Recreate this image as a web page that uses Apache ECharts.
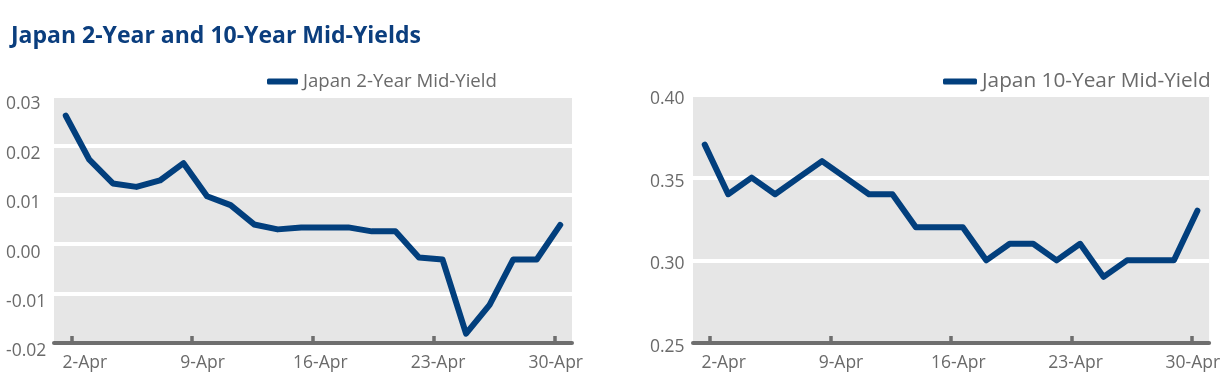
<!DOCTYPE html>
<html>
<head>
<meta charset="utf-8">
<script src="https://cdn.jsdelivr.net/npm/echarts@6/dist/echarts.min.js"></script>
<style>
html,body{margin:0;padding:0;background:#fff;}
#c{width:1223px;height:391px;}
</style>
</head>
<body>
<div id="c"></div>
<script>
// Business days of April (category axis)
const dates = ['1-Apr','2-Apr','3-Apr','4-Apr','5-Apr','8-Apr','9-Apr','10-Apr','11-Apr','12-Apr',
  '15-Apr','16-Apr','17-Apr','18-Apr','19-Apr','22-Apr','23-Apr','24-Apr','25-Apr','26-Apr','29-Apr','30-Apr'];
// Japan 2-Year mid-yield (%)
const twoYear = [0.026, 0.0171, 0.0123, 0.0116, 0.0129, 0.0164, 0.0097, 0.0079, 0.0040, 0.0030,
  0.0034, 0.0034, 0.0034, 0.0026, 0.0026, -0.0027, -0.0031, -0.0181, -0.0123, -0.0031, -0.0031, 0.0039];
// Japan 10-Year mid-yield (%)
const tenYear = [0.37, 0.34, 0.35, 0.34, 0.35, 0.36, 0.35, 0.34, 0.34, 0.32,
  0.32, 0.32, 0.30, 0.31, 0.31, 0.30, 0.31, 0.29, 0.30, 0.30, 0.30, 0.33];
// Day-of-month tick positions for the date tick marks
const tickDays = [2, 9, 16, 23, 30];
const leftY = {min: -0.02, max: 0.03, interval: 0.01};
const rightY = {min: 0.25, max: 0.40, interval: 0.05};
const title = 'Japan 2-Year and 10-Year Mid-Yields';
const name2 = 'Japan 2-Year Mid-Yield';
const name10 = 'Japan 10-Year Mid-Yield';

const FONT = 'Open Sans';
const GREY_TXT = '#6a6a6a';
const AXIS = '#6e6e6e';
const BLUE = '#023f7d';

function catAxis(gi) {
  return {
    type: 'category', gridIndex: gi, data: dates, boundaryGap: true,
    axisLine: {show: false}, axisTick: {show: false}, splitLine: {show: false},
    axisLabel: {
      interval: (i) => i % 5 === 1,
      margin: 11, fontSize: 17.5, color: GREY_TXT, fontFamily: FONT,
      padding: [0, 9, 0, 0]
    }
  };
}
function tickAxis(gi) {
  return {
    type: 'value', gridIndex: gi, min: 1, max: 31, position: 'bottom',
    axisLine: {show: true, onZero: false, lineStyle: {color: AXIS, width: 4}},
    axisTick: {show: true, inside: true, length: 7, customValues: tickDays, lineStyle: {color: AXIS, width: 3.5}},
    axisLabel: {show: false},
    splitLine: {show: false}
  };
}
function yAxis(gi, r, margin, lh) {
  return {
    type: 'value', gridIndex: gi, min: r.min, max: r.max, interval: r.interval,
    axisLine: {show: false}, axisTick: {show: false},
    splitLine: {show: true, lineStyle: {color: '#ffffff', width: 4}},
    axisLabel: {
      align: 'left', verticalAlign: 'top', lineHeight: lh,
      margin: margin, fontSize: 17.5, color: GREY_TXT, fontFamily: FONT,
      formatter: (v) => v.toFixed(2)
    }
  };
}

const chart = echarts.init(document.getElementById('c'), null, {renderer: 'canvas'});
chart.setOption({
  animation: false,
  backgroundColor: '#ffffff',
  title: {
    text: title, left: 6, top: 20,
    textStyle: {fontFamily: FONT, fontSize: 23, fontWeight: 'bold', color: '#0b3e7e'}
  },
  legend: [
    {
      data: [name2], left: 262, top: 67, icon: 'roundRect', itemWidth: 31, itemHeight: 6,
      textStyle: {fontFamily: FONT, fontSize: 18.6, color: GREY_TXT}
    },
    {
      data: [name10], left: 938, top: 66, icon: 'roundRect', itemWidth: 34, itemHeight: 6,
      textStyle: {fontFamily: FONT, fontSize: 20.8, color: GREY_TXT}
    }
  ],
  grid: [
    {left: 54, right: 651, top: 96, bottom: 48, show: true, backgroundColor: '#e6e6e6', borderWidth: 0},
    {left: 693, right: 6, top: 95, bottom: 48, show: true, backgroundColor: '#e6e6e6', borderWidth: 0}
  ],
  xAxis: [catAxis(0), tickAxis(0), catAxis(1), tickAxis(1)],
  yAxis: [yAxis(0, leftY, 48, 17), yAxis(1, rightY, 43, 8)],
  series: [
    {
      name: name2, type: 'line', xAxisIndex: 0, yAxisIndex: 0, data: twoYear,
      showSymbol: false, symbol: 'none', color: BLUE,
      lineStyle: {color: BLUE, width: 6, cap: 'round', join: 'round'}
    },
    {
      name: name10, type: 'line', xAxisIndex: 2, yAxisIndex: 1, data: tenYear,
      showSymbol: false, symbol: 'none', color: BLUE,
      lineStyle: {color: BLUE, width: 6, cap: 'round', join: 'round'}
    }
  ]
});
</script>
</body>
</html>
